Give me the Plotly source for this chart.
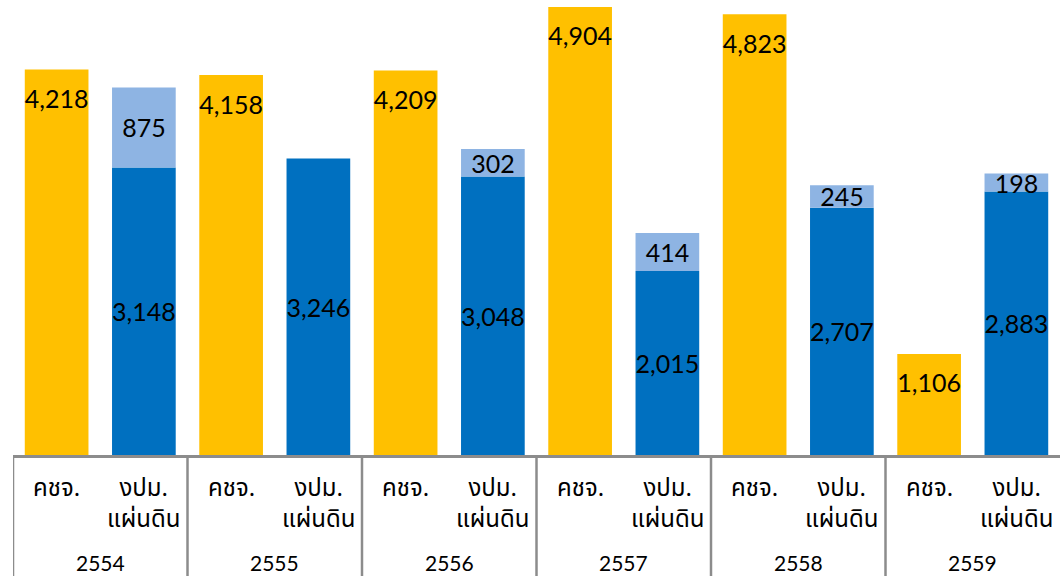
import plotly.graph_objects as go

years = ['2554', '2555', '2556', '2557', '2558', '2559']
cat_exp = 'คชจ.'
cat_bud = 'งปม.<br>แผ่นดิน'
expenses = [4218, 4158, 4209, 4904, 4823, 1106]
budget_base = [3148, 3246, 3048, 2015, 2707, 2883]
budget_extra = [875, 0, 302, 414, 245, 198]

n = len(years)
x_exp = [2 * i for i in range(n)]
x_bud = [2 * i + 1 for i in range(n)]
extra_vals = [e if e else None for e in budget_extra]

num_font = dict(family='Lato, Carlito, Calibri, sans-serif', size=25, color='black')
thai_font = 'Tahoma, "Leelawadee UI", "Noto Sans Thai", Loma, Garuda, sans-serif'
line_col = '#8C8C8C'

fig = go.Figure()
fig.add_trace(go.Bar(x=x_exp, y=expenses, marker_color='#FFC000', marker_line_width=0))
fig.add_trace(go.Bar(x=x_bud, y=budget_base, marker_color='#0070C0', marker_line_width=0,
                     texttemplate='%{y:,}', textposition='inside', insidetextanchor='middle',
                     textangle=0, textfont=num_font, constraintext='none'))
fig.add_trace(go.Bar(x=x_bud, y=extra_vals, marker_color='#8EB4E3', marker_line_width=0,
                     texttemplate='%{y:,}', textposition='inside', insidetextanchor='middle',
                     textangle=0, textfont=num_font, constraintext='none'))
# yellow bar labels sit just under the bar top
fig.add_trace(go.Scatter(x=x_exp, y=expenses, mode='markers+text', marker=dict(size=30, opacity=0),
                         texttemplate='%{y:,}', textposition='bottom center', textfont=num_font,
                         cliponaxis=False, hoverinfo='skip'))

# category labels under the axis
for i, yr in enumerate(years):
    fig.add_annotation(x=x_exp[i], y=0, yref='paper', yshift=-34, text=cat_exp, showarrow=False,
                       yanchor='middle', font=dict(family=thai_font, size=24, color='black'))
    fig.add_annotation(x=x_bud[i], y=0, yref='paper', yshift=-49, text=cat_bud, showarrow=False,
                       yanchor='middle', font=dict(family=thai_font, size=24, color='black'))
    fig.add_annotation(x=(x_exp[i] + x_bud[i]) / 2, y=0, yref='paper', yshift=-107, text=yr,
                       showarrow=False, yanchor='middle',
                       font=dict(family='Lato, Carlito, Calibri, sans-serif', size=21, color='black'))
    fig.add_shape(type='line', x0=x_exp[i] - 0.5, x1=x_exp[i] - 0.5, y0=0, y1=-0.3,
                  xref='x', yref='paper', line=dict(color=line_col, width=2.5))

fig.update_layout(
    width=1060, height=576,
    barmode='relative', bargap=0.27,
    showlegend=False,
    plot_bgcolor='white', paper_bgcolor='white',
    margin=dict(l=13, r=0, t=0, b=121),
)
fig.update_xaxes(range=[-0.5, 2 * n - 0.5], showline=True, linecolor=line_col, linewidth=2.5,
                 showticklabels=False, showgrid=False, zeroline=False)
fig.update_yaxes(range=[0, 4980], visible=False, showgrid=False)

# page has a default body margin; drop it so the chart sits at the window corner
fig.write_html('out.html', config={'displayModeBar': False},
               post_script="document.body.style.margin='0';")
